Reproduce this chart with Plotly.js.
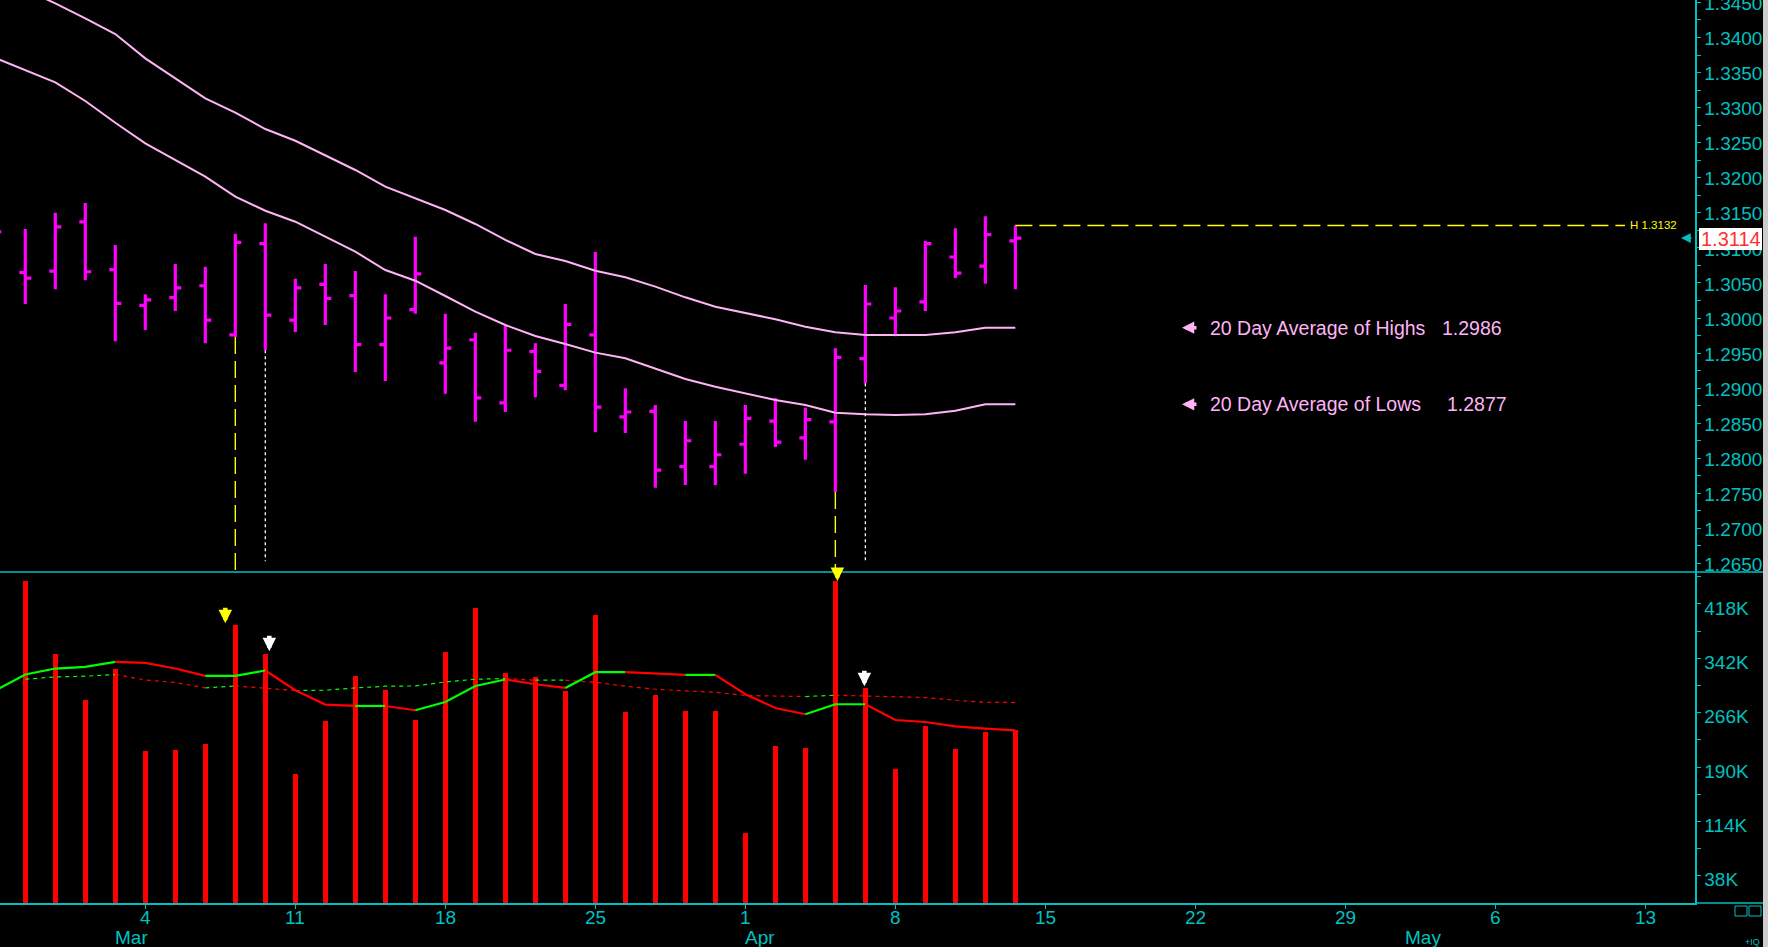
<!DOCTYPE html>
<html>
<head>
<meta charset="utf-8">
<script src="https://cdn.plot.ly/plotly-3.0.1.min.js"></script>
<style>
  html, body { margin: 0; padding: 0; background: #000; }
  #chart { width: 1768px; height: 947px; }
</style>
</head>
<body>
<div id="chart"></div>
<script>
// ---------------- DATA ----------------
const dates = ['2013-02-25','2013-02-26','2013-02-27','2013-02-28','2013-03-01',
  '2013-03-04','2013-03-05','2013-03-06','2013-03-07','2013-03-08',
  '2013-03-11','2013-03-12','2013-03-13','2013-03-14','2013-03-15',
  '2013-03-18','2013-03-19','2013-03-20','2013-03-21','2013-03-22',
  '2013-03-25','2013-03-26','2013-03-27','2013-03-28','2013-03-29',
  '2013-04-01','2013-04-02','2013-04-03','2013-04-04','2013-04-05',
  '2013-04-08','2013-04-09','2013-04-10','2013-04-11','2013-04-12'];

const opens  = [1.3135,1.3065,1.3067,1.3137,1.3069, 1.3018,1.3029,1.3046,1.2976,1.3106,
  1.2997,1.3048,1.3032,1.2962,1.3012, 1.2936,1.2969,1.2879,1.2952,1.2904,
  1.2976,1.2859,1.2867,1.2788,1.2788, 1.2820,1.2853,1.2829,1.2852,1.2942,
  1.3000,1.3023,1.3087,1.3074,1.3110];
const highs  = [1.3160,1.3127,1.3150,1.3164,1.3104, 1.3034,1.3077,1.3073,1.3120,1.3135,
  1.3056,1.3077,1.3067,1.3034,1.3116, 1.3006,1.2979,1.2989,1.2964,1.3020,
  1.3094,1.2900,1.2876,1.2853,1.2853, 1.2876,1.2886,1.2872,1.2957,1.3047,
  1.3044,1.3110,1.3128,1.3145,1.3132];
const lows   = [1.3110,1.3020,1.3041,1.3054,1.2967, 1.2983,1.3010,1.2964,1.2973,1.2954,
  1.2980,1.2990,1.2923,1.2910,1.3006, 1.2892,1.2852,1.2866,1.2887,1.2897,
  1.2837,1.2836,1.2758,1.2762,1.2762, 1.2778,1.2816,1.2798,1.2752,1.2907,
  1.2974,1.3010,1.3057,1.3049,1.3041];
const closes = [1.3123,1.3057,1.3130,1.3066,1.3021, 1.3026,1.3043,1.2997,1.3108,1.3004,
  1.3043,1.3028,1.2962,1.3000,1.3063, 1.2957,1.2886,1.2954,1.2924,1.2991,
  1.2873,1.2866,1.2783,1.2825,1.2805, 1.2857,1.2823,1.2855,1.2944,1.3020,
  1.3010,1.3106,1.3064,1.3119,1.3114];

const avgHighs = [1.34877,1.34677,1.34488,1.34274,1.34050, 1.33703,1.33418,1.33133,1.32928,1.32695,
  1.32528,1.32325,1.32111,1.31873,1.31707, 1.31540,1.31341,1.31113,1.30913,1.30813,
  1.30675,1.30581,1.30447,1.30295,1.30161, 1.30076,1.29982,1.29876,1.29796,1.29758,
  1.29758,1.29758,1.29796,1.29862,1.29862];
const avgLows = [1.33708,1.33537,1.33361,1.33095,1.32785, 1.32491,1.32253,1.32015,1.31730,1.31530,
  1.31373,1.31160,1.30946,1.30685,1.30532, 1.30314,1.30090,1.29900,1.29744,1.29630,
  1.29506,1.29426,1.29283,1.29130,1.29021, 1.28927,1.28831,1.28760,1.28650,1.28627,
  1.28617,1.28627,1.28678,1.28770,1.28770];

const volumes = [null,449800,347700,283300,326700, 212000,213300,221700,388200,347700,
  179800,253900,316900,297300,255300, 350400,412000,321000,315500,295900,
  402200,266500,290300,267900,267900, 97200,218900,216100,449800,300100,
  186800,246900,214700,238500,241300];
const volAvgShort = [297000,319300,327600,329900,336900, 335500,327600,317300,317300,324900,
  297300,277300,275300,275300,269300, 280900,303300,312300,305700,300500,
  322500,322500,320100,318700,318700, 291700,272500,263700,277700,277700,
  255700,252900,246900,243700,241300];
const volAvgLong = [null,312700,315900,316900,319300, 311700,308100,300500,303300,300500,
  296900,297300,300500,302900,303300, 308900,312700,313700,311300,311300,
  308500,302900,298700,296300,294500, 289900,288900,288500,290300,289300,
  288900,287100,283300,280500,280100];

const tickDates  = ['2013-03-04','2013-03-11','2013-03-18','2013-03-25','2013-04-01',
  '2013-04-08','2013-04-15','2013-04-22','2013-04-29','2013-05-06','2013-05-13'];
const tickLabels = ['4','11','18','25','1','8','15','22','29','6','13'];
const monthStarts = ['2013-03-01','2013-04-01','2013-05-01'];
const monthLabels = ['Mar','Apr','May'];
const volTickVals = [38000,114000,190000,266000,342000,418000];
const volTickText = ['38K','114K','190K','266K','342K','418K'];
const volMinorVals = [76000,152000,228000,304000,380000,456000];

// ---------------- STYLE ----------------
const CYAN = '#00c0c0', MAG = '#ff00ff', PINK = '#ffb4f4', RED = '#ff0000',
      GREEN = '#00ff00', YEL = '#ffff00', WHITE = '#ffffff';
const FONT = 'Liberation Sans, Arial, Helvetica, sans-serif';
const PW = 1695, PH = 903;               // plot area size in px
const px = v => v / PW;                  // px -> paper x
const py = v => (PH - v) / PH;           // px -> paper y
const noon = d => d + ' 12:00';
const X = dates.map(noon);
const VOLTOP = py(572);

// moving-average segments coloured by direction
function runs(xs, ys) {
  const out = []; let cur = null;
  for (let i = 0; i < ys.length - 1; i++) {
    if (ys[i] == null || ys[i + 1] == null) { cur = null; continue; }
    const col = ys[i + 1] >= ys[i] ? GREEN : RED;
    if (!cur || cur.col !== col) { cur = {col, x: [xs[i]], y: [ys[i]]}; out.push(cur); }
    cur.x.push(xs[i + 1]); cur.y.push(ys[i + 1]);
  }
  return out;
}

const traces = [
  {type: 'ohlc', x: X, open: opens, high: highs, low: lows, close: closes,
   increasing: {line: {color: MAG, width: 3.2}}, decreasing: {line: {color: MAG, width: 3.2}},
   tickwidth: 0.2, xaxis: 'x', yaxis: 'y', hoverinfo: 'skip'},
  {type: 'scatter', mode: 'lines', x: X, y: avgHighs, line: {color: PINK, width: 2},
   xaxis: 'x', yaxis: 'y', hoverinfo: 'skip'},
  {type: 'scatter', mode: 'lines', x: X, y: avgLows, line: {color: PINK, width: 2},
   xaxis: 'x', yaxis: 'y', hoverinfo: 'skip'},
  {type: 'bar', x: X, y: volumes, marker: {color: RED, line: {width: 0}},
   width: 0.16 * 86400000, xaxis: 'x', yaxis: 'y2', hoverinfo: 'skip'}
];
runs(X, volAvgLong).forEach(r => traces.push({type: 'scatter', mode: 'lines', x: r.x, y: r.y,
  line: {color: r.col, width: 1.2, dash: '4px,4px'}, xaxis: 'x', yaxis: 'y2', hoverinfo: 'skip'}));
runs(X, volAvgShort).forEach(r => traces.push({type: 'scatter', mode: 'lines', x: r.x, y: r.y,
  line: {color: r.col, width: 2.2}, xaxis: 'x', yaxis: 'y2', hoverinfo: 'skip'}));

const last = dates.length - 1;
const iY1 = 8, iW1 = 9, iY2 = 28, iW2 = 29;   // signal bars
const PRICE_MIN = 1.26378, PRICE_MAX = 1.34535;
const highLineEnd = '2013-05-10 19:40';

const shapes = [
  {type: 'line', xref: 'paper', yref: 'paper', x0: 0, x1: px(1763), y0: VOLTOP, y1: VOLTOP,
   line: {color: CYAN, width: 1.5}},
  {type: 'line', xref: 'paper', yref: 'paper', x0: 1, x1: px(1763), y0: 0, y1: 0,
   line: {color: CYAN, width: 1.5}},
  {type: 'rect', xref: 'paper', yref: 'paper', x0: px(1763), x1: px(1775), y0: py(950), y1: py(-5),
   fillcolor: '#cccccc', line: {width: 0}},
  {type: 'rect', xref: 'paper', yref: 'paper', x0: px(1735), x1: px(1747), y0: py(916), y1: py(906),
   line: {color: CYAN, width: 1}},
  {type: 'rect', xref: 'paper', yref: 'paper', x0: px(1749), x1: px(1761), y0: py(916), y1: py(906),
   line: {color: CYAN, width: 1}},
  // signal verticals
  {type: 'line', xref: 'x', yref: 'y', x0: X[iY1], x1: X[iY1], y0: lows[iY1], y1: PRICE_MIN,
   line: {color: YEL, width: 1.4, dash: '17px,7px'}},
  {type: 'line', xref: 'x', yref: 'y', x0: X[iW1], x1: X[iW1], y0: lows[iW1], y1: 1.2653,
   line: {color: WHITE, width: 1.3, dash: '3px,3px'}},
  {type: 'line', xref: 'x', yref: 'y', x0: X[iY2], x1: X[iY2], y0: lows[iY2], y1: PRICE_MIN,
   line: {color: YEL, width: 1.4, dash: '17px,7px'}},
  {type: 'line', xref: 'x', yref: 'y', x0: X[iW2], x1: X[iW2], y0: lows[iW2], y1: 1.2653,
   line: {color: WHITE, width: 1.3, dash: '3px,3px'}},
  // last high line
  {type: 'line', xref: 'x', yref: 'y', x0: X[last], x1: highLineEnd, y0: highs[last], y1: highs[last],
   line: {color: YEL, width: 1.4, dash: '17px,7px'}},
  // price tag box
  {type: 'rect', xref: 'paper', yref: 'paper', x0: px(1699), x1: px(1762), y0: py(250), y1: py(228),
   fillcolor: '#ffffff', line: {width: 0}, layer: 'above'}
];

const arrow = (o) => Object.assign({text: '', showarrow: true, arrowhead: 2, arrowsize: 0.6,
  arrowwidth: 4.5, standoff: 0, ax: 0, ay: -17}, o);

const annotations = [];
tickDates.forEach((d, i) => annotations.push({xref: 'x', x: noon(d), yref: 'paper', y: py(917),
  text: tickLabels[i], showarrow: false, xanchor: 'center', yanchor: 'middle',
  font: {family: FONT, size: 19, color: CYAN}}));
monthStarts.forEach((d, i) => annotations.push({xref: 'x', x: noon(d), yref: 'paper', y: py(937),
  text: monthLabels[i], showarrow: false, xanchor: 'left', yanchor: 'middle', xshift: -2,
  font: {family: FONT, size: 19, color: CYAN}}));

const maLabels = [
  {label: '20 Day Average of Highs', val: avgHighs[last], numX: 1440},
  {label: '20 Day Average of Lows', val: avgLows[last], numX: 1445}
];
maLabels.forEach(m => {
  annotations.push({xref: 'paper', x: px(1208), yref: 'y', y: m.val, text: m.label, showarrow: false,
    xanchor: 'left', yanchor: 'middle', font: {family: FONT, size: 19.5, color: PINK}});
  annotations.push({xref: 'paper', x: px(m.numX), yref: 'y', y: m.val, text: m.val.toFixed(4), showarrow: false,
    xanchor: 'left', yanchor: 'middle', font: {family: FONT, size: 19.5, color: PINK}});
  annotations.push(arrow({xref: 'paper', x: px(1182), yref: 'y', y: m.val, ax: 16, ay: 0,
    arrowwidth: 3.5, arrowsize: 0.7, arrowcolor: PINK}));
});

annotations.push({xref: 'x', x: highLineEnd, yref: 'y', y: highs[last], text: 'H ' + highs[last].toFixed(4),
  showarrow: false, xanchor: 'left', yanchor: 'middle', xshift: 3,
  font: {family: FONT, size: 11.5, color: YEL}});
annotations.push({xref: 'paper', x: px(1730.5), yref: 'paper', y: py(239), text: closes[last].toFixed(4),
  showarrow: false, xanchor: 'center', yanchor: 'middle', font: {family: FONT, size: 20, color: '#ff3030'}});
annotations.push(arrow({xref: 'paper', x: px(1681), yref: 'y', y: closes[last], ax: 12, ay: 0,
  arrowwidth: 1.5, arrowsize: 1.3, arrowcolor: CYAN}));

annotations.push(arrow({xref: 'x', x: X[iY1], yref: 'y2', y: volumes[iY1], xshift: -10, yshift: 2, arrowcolor: YEL}));
annotations.push(arrow({xref: 'x', x: X[iW1], yref: 'y2', y: volumes[iW1], xshift: 4, yshift: 3, arrowcolor: WHITE}));
annotations.push(arrow({xref: 'x', x: X[iY2], yref: 'y2', y: volumes[iY2], xshift: 2, yshift: 0, ay: -10, arrowcolor: YEL}));
annotations.push(arrow({xref: 'x', x: X[iW2], yref: 'y2', y: volumes[iW2], xshift: -1, yshift: 2, arrowcolor: WHITE}));

annotations.push({xref: 'paper', x: px(1752), yref: 'paper', y: py(942), text: '+IQ', showarrow: false,
  xanchor: 'center', yanchor: 'middle', font: {family: FONT, size: 9, color: CYAN}});

const axisFont = {family: FONT, size: 19, color: CYAN};
const layout = {
  width: 1768, height: 947,
  margin: {l: 0, r: 73, t: 0, b: 44, pad: 0},
  paper_bgcolor: '#000000', plot_bgcolor: '#000000',
  showlegend: false, dragmode: false,
  xaxis: {
    type: 'date', anchor: 'y2',
    range: ['2013-02-25 15:46', '2013-05-15 03:40'],
    rangebreaks: [{bounds: ['sat', 'mon']}],
    rangeslider: {visible: false},
    showgrid: false, zeroline: false, showline: true, linecolor: CYAN, linewidth: 1.5,
    ticks: 'outside', ticklen: 4, tickcolor: CYAN, tickwidth: 1,
    tickmode: 'array', tickvals: tickDates.map(noon), ticktext: tickLabels,
    showticklabels: false
  },
  yaxis: {
    domain: [VOLTOP, 1], range: [PRICE_MIN, PRICE_MAX], side: 'right', anchor: 'x',
    showgrid: false, zeroline: false, showline: true, linecolor: CYAN, linewidth: 1.5,
    ticks: 'outside', ticklen: 4, tickcolor: CYAN, tickwidth: 1,
    tick0: 1.265, dtick: 0.005, tickformat: '.4f', tickfont: axisFont, ticklabelshift: 1,
    ticklabeloverflow: 'allow',
    minor: {dtick: 0.0025, tick0: 1.265, ticks: 'outside', ticklen: 4, tickcolor: CYAN, tickwidth: 1, showgrid: false}
  },
  yaxis2: {
    domain: [0, VOLTOP], range: [0, 462500], side: 'right', anchor: 'x',
    showgrid: false, zeroline: false, showline: true, linecolor: CYAN, linewidth: 1.5,
    ticks: 'outside', ticklen: 4, tickcolor: CYAN, tickwidth: 1,
    tickmode: 'array', tickvals: volTickVals, ticktext: volTickText, tickfont: axisFont, ticklabelshift: 4,
    ticklabeloverflow: 'allow',
    minor: {tickmode: 'array', tickvals: volMinorVals, ticks: 'outside', ticklen: 4, tickcolor: CYAN, tickwidth: 1, showgrid: false}
  },
  shapes: shapes,
  annotations: annotations,
  bargap: 0
};

Plotly.newPlot('chart', traces, layout, {displayModeBar: false, staticPlot: true});
</script>
</body>
</html>
